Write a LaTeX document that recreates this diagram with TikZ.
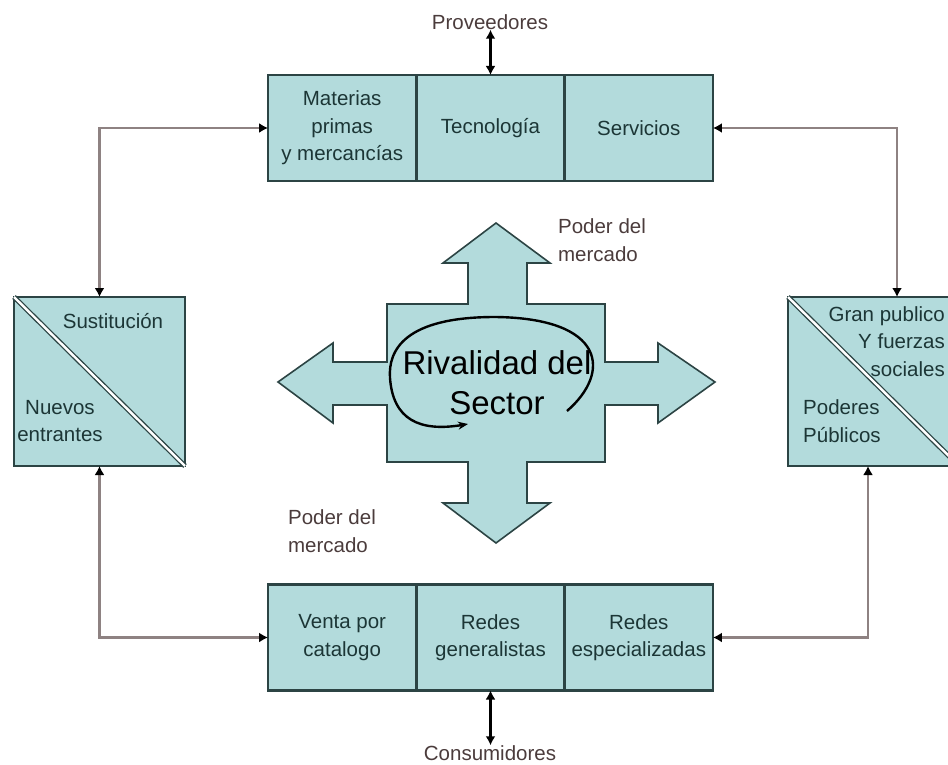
\documentclass[tikz,border=0pt]{standalone}
\usepackage{fontspec}
\setmainfont{Liberation Sans}
\usepackage{tikz}
\definecolor{cajafill}{HTML}{B3DBDC}
\definecolor{cajaline}{HTML}{2C4444}
\definecolor{cajatext}{HTML}{1C3636}
\definecolor{fueratext}{HTML}{4B3C3C}
\definecolor{conline}{HTML}{8E8282}
\usetikzlibrary{positioning, arrows.meta}
\tikzstyle{caja} = [rectangle, draw=cajaline, fill=cajafill, line width=2.4pt, text=cajatext, align=center, inner sep=0pt, outer sep=0pt, minimum width=148.3pt, minimum height=106pt]
\tikzstyle{lado} = [rectangle, draw=cajaline, fill=cajafill, line width=2.4pt, outer sep=0pt, minimum width=171pt, minimum height=169pt]
\tikzstyle{conn} = [draw=conline, line width=2.6pt, {Latex[black,length=9pt,width=10pt]}-{Latex[black,length=9pt,width=10pt]}]

\begin{document}
\begin{tikzpicture}[x=1pt, y=-1pt, every node/.style={font=\fontsize{20.5}{27.5}\selectfont}]
                    \tikzstyle{fuera} = [text=fueratext, align=left, inner sep=0pt]
                    \tikzstyle{dentro} = [text=cajatext, inner sep=0pt]
                    \tikzstyle{diag} = [draw=cajaline, line width=1.3pt, double=white, double distance=2.4pt]

                    \useasboundingbox (0,0) rectangle (948,765);
                    \clip (0,0) rectangle (948,765);

                    % proveedores
                    \node[caja](mat) at (342.2,128) {Materias\\primas\\y mercancías};
                    \node[caja, right=0pt of mat](tec) {Tecnología};
                    \node[caja, right=0pt of tec](ser) {Servicios};

                    % consumidores
                    \node[caja](ven) at (342.2,637.5) {Venta por\\catalogo};
                    \node[caja, right=0pt of ven](rgen) {Redes\\generalistas};
                    \node[caja, right=0pt of rgen](resp) {Redes\\especializadas};

                    \node[lado](sus) at (99.5,381.5) {};
                    \draw[diag] (sus.north west) -- (sus.south east);
                    \node[dentro] (sust) at (113,321) {Sustitución};
                    \node[dentro, align=center] (nue) at (60,421) {Nuevos\\entrantes};

                    \node[lado](gran) at (873.5,381.5) {};
                    \draw[diag] (gran.north west) -- (gran.south east);
                    \node[dentro, align=right, anchor=north east] (gpu) at (945,306) {Gran publico\\Y fuerzas\\sociales};
                    \node[dentro, align=left, anchor=west] (pod) at (803,421) {Poderes\\Públicos};

                    \draw[draw=cajaline, fill=cajafill, line width=1.6pt]
                      (387,304) -- (468,304) -- (468,263) -- (443,263) -- (496,223) -- (550,263) -- (527,263) -- (527,304)
                      -- (605,304) -- (605,362) -- (658,362) -- (658,343) -- (715,382) -- (658,423) -- (658,405) -- (605,405)
                      -- (605,462) -- (527,462) -- (527,503) -- (550,503) -- (496,543) -- (443,503) -- (468,503) -- (468,462)
                      -- (387,462) -- (387,405) -- (333,405) -- (333,423) -- (278,382) -- (333,343) -- (333,362) -- (387,362) -- cycle;
                    \node[align=center, inner sep=0pt, font=\fontsize{33}{40}\selectfont] (riv) at (497,383) {Rivalidad del\\Sector};
                    \draw[line width=2.4pt, -{Stealth[length=10pt,width=8pt]}] (567,411) .. controls (612,372) and (605,318) .. (495,317)
                      .. controls (405,317) and (388,350) .. (390,378) .. controls (393,420) and (420,432) .. (468,424);

                    \node[fuera] (pm1) at (602,240) {Poder del\\mercado};
                    \node[fuera] (pm2) at (332,531) {Poder del\\mercado};

                    \node[fuera] (prov) at (490,22) {Proveedores};
                    \node[fuera] (cons) at (490,753) {Consumidores};
                    \draw[conn, draw=black] (tec.north) -- (tec.north |- prov.south);
                    \draw[conn, draw=black] (rgen.south) -- (rgen.south |- cons.north);

                    \draw[conn] (mat.west) -| (sus.north);
                    \draw[conn] (ser.east) -| ([xshift=23.5pt]gran.north);
                    \draw[conn] (sus.south) |- (ven.west);
                    \draw[conn] ([xshift=-5.5pt]gran.south) |- (resp.east);

            \end{tikzpicture}
\end{document}
